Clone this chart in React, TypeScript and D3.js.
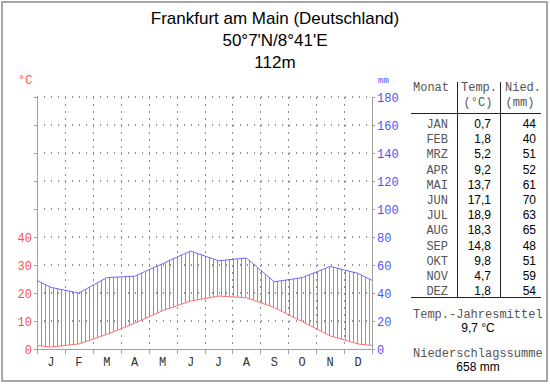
import React from "react";
import * as d3 from "d3";

const monthLetters = ["J", "F", "M", "A", "M", "J", "J", "A", "S", "O", "N", "D"];
const monthAbbr = ["JAN", "FEB", "MRZ", "APR", "MAI", "JUN", "JUL", "AUG", "SEP", "OKT", "NOV", "DEZ"];
const tempValues = [0.7, 1.8, 5.2, 9.2, 13.7, 17.1, 18.9, 18.3, 14.8, 9.8, 4.7, 1.8];
const precipValues = [44, 40, 51, 52, 61, 70, 63, 65, 48, 51, 59, 54];
const tempTickLabels = [0, 10, 20, 30, 40];
const precipTickLabels = [0, 20, 40, 60, 80, 100, 120, 140, 160, 180];
const titleLines = ["Frankfurt am Main (Deutschland)", "50°7'N/8°41'E", "112m"];
const tempMeanLabel = "9,7 °C";
const precipSumLabel = "658 mm";

const W = 550;
const H = 384;
const left = 37;
const right = 372;
const top = 97;
const bottom = 349;

const mono = "'Liberation Mono', 'Courier New', monospace";
const sans = "'Liberation Sans', Arial, sans-serif";
const gridColor = "#8c8c8c";
const axisColor = "#a0a0a0";
const tableText = "#555";
const hatchColor = "#8686ff";

export default function App() {
  const x = d3.scaleLinear().domain([0, 12]).range([left, right]);
  const yP = d3.scaleLinear().domain([0, 180]).range([bottom, top]);
  const yT = d3.scaleLinear().domain([0, 90]).range([bottom, top]);

  const edgeT = (tempValues[0] + tempValues[11]) / 2;
  const edgeP = (precipValues[0] + precipValues[11]) / 2;
  const xs = [0, ...tempValues.map((_, i) => i + 0.5), 12];
  const tPts = [edgeT, ...tempValues, edgeT];
  const pPts = [edgeP, ...precipValues, edgeP];
  const tInterp = d3.scaleLinear().domain(xs).range(tPts);
  const pInterp = d3.scaleLinear().domain(xs).range(pPts);

  const tLine = d3
    .line<number>()
    .x((d) => x(d))
    .y((d) => yT(tInterp(d)))(xs) as string;
  const pLine = d3
    .line<number>()
    .x((d) => x(d))
    .y((d) => yP(pInterp(d)))(xs) as string;

  const hatchX: number[] = [];
  for (let px = left + 4; px < right - 1; px += 4) hatchX.push(px);

  const rowY = (i: number) => 128 + i * 15.2;

  return (
    <svg
      width={W}
      height={H}
      style={{ position: "absolute", left: 0, top: 0, background: "#fff" }}
    >
      <rect x={0} y={0} width={W} height={H} fill="#fff" />
      <rect x={2} y={2} width={545} height={379} fill="none" stroke="#8a8a8a" strokeWidth={1.5} />

      {titleLines.map((t, i) => (
        <text key={i} x={275} y={24 + i * 22} textAnchor="middle" fontFamily={sans} fontSize={17} fill="#000">
          {t}
        </text>
      ))}

      <text x={18} y={84} fontFamily={mono} fontSize={12} fill="#ff5050">°C</text>
      <text x={378} y={83} fontFamily={mono} fontSize={9} fill="#5050ff">mm</text>

      {/* horizontal dotted grid */}
      {precipTickLabels.slice(1).map((v) => (
        <line
          key={"hg" + v}
          x1={left}
          x2={right}
          y1={yP(v)}
          y2={yP(v)}
          stroke={gridColor}
          strokeWidth={2}
          strokeDasharray="1 6"
          shapeRendering="crispEdges"
        />
      ))}
      {/* vertical dotted grid */}
      {d3.range(1, 12).map((k) => (
        <line
          key={"vg" + k}
          x1={Math.round(x(k)) + 0.5}
          x2={Math.round(x(k)) + 0.5}
          y1={top}
          y2={bottom}
          stroke={gridColor}
          strokeWidth={1}
          strokeDasharray="2 5"
          shapeRendering="crispEdges"
        />
      ))}

      {/* hatching */}
      <g stroke={hatchColor} strokeWidth={1} shapeRendering="crispEdges">
        {hatchX.map((px) => {
          const u = x.invert(px);
          return (
            <line
              key={"h" + px}
              x1={px + 0.5}
              x2={px + 0.5}
              y1={yT(tInterp(u))}
              y2={yP(pInterp(u))}
            />
          );
        })}
      </g>

      {/* axes */}
      <line x1={left + 0.5} x2={left + 0.5} y1={top} y2={bottom + 5} stroke={axisColor} />
      <line x1={right + 0.5} x2={right + 0.5} y1={top} y2={bottom + 5} stroke={axisColor} />
      <line x1={left} x2={right} y1={bottom + 0.5} y2={bottom + 0.5} stroke={axisColor} />
      {d3.range(0, 13).map((k) => (
        <line
          key={"bt" + k}
          x1={Math.round(x(k)) + 0.5}
          x2={Math.round(x(k)) + 0.5}
          y1={bottom}
          y2={bottom + 5}
          stroke={axisColor}
        />
      ))}
      {precipTickLabels.map((v) => (
        <g key={"tk" + v}>
          <line x1={left - 3} x2={left} y1={Math.round(yP(v)) + 0.5} y2={Math.round(yP(v)) + 0.5} stroke={axisColor} />
          <line x1={right} x2={right + 3} y1={Math.round(yP(v)) + 0.5} y2={Math.round(yP(v)) + 0.5} stroke={axisColor} />
          <text x={377} y={yP(v) + 4.5} fontFamily={mono} fontSize={12} fill="#5050ff">
            {v}
          </text>
        </g>
      ))}
      {tempTickLabels.map((v) => (
        <text key={"tl" + v} x={32} y={yT(v) + 4.5} textAnchor="end" fontFamily={mono} fontSize={12} fill="#ff5050">
          {v}
        </text>
      ))}

      {/* curves */}
      <path d={pLine} fill="none" stroke="#6a6aff" strokeWidth={1} />
      <path d={tLine} fill="none" stroke="#ff7070" strokeWidth={1} />

      {monthLetters.map((m, i) => (
        <text key={"m" + i} x={x(i + 0.5)} y={366} textAnchor="middle" fontFamily={mono} fontSize={12} fill="#333">
          {m}
        </text>
      ))}

      {/* table */}
      <g fontFamily={mono} fontSize={12} fill={tableText}>
        <text x={413} y={91}>Monat</text>
        <text x={461} y={91}>Temp.</text>
        <text x={505} y={91}>Nied.</text>
        <text x={478} y={106} textAnchor="middle">(°C)</text>
        <text x={520} y={106} textAnchor="middle">(mm)</text>
      </g>
      <line x1={411} x2={541} y1={113.5} y2={113.5} stroke="#222" />
      <line x1={411} x2={541} y1={297.5} y2={297.5} stroke="#222" />
      <line x1={457.5} x2={457.5} y1={82} y2={297} stroke="#222" />
      <line x1={500.5} x2={500.5} y1={82} y2={297} stroke="#222" />
      {monthAbbr.map((m, i) => (
        <g key={"row" + i}>
          <text x={448} y={rowY(i)} textAnchor="end" fontFamily={mono} fontSize={12} fill={tableText}>
            {m}
          </text>
          <text x={491} y={rowY(i)} textAnchor="end" fontFamily={sans} fontSize={12} fill="#000">
            {tempValues[i].toFixed(1).replace(".", ",")}
          </text>
          <text x={536} y={rowY(i)} textAnchor="end" fontFamily={sans} fontSize={12} fill="#000">
            {precipValues[i]}
          </text>
        </g>
      ))}
      <text x={413} y={318} fontFamily={mono} fontSize={12} fill={tableText}>Temp.-Jahresmittel</text>
      <text x={478} y={332} textAnchor="middle" fontFamily={sans} fontSize={12} fill="#000">{tempMeanLabel}</text>
      <text x={413} y={357} fontFamily={mono} fontSize={12} fill={tableText}>Niederschlagssumme</text>
      <text x={478} y={371} textAnchor="middle" fontFamily={sans} fontSize={12} fill="#000">{precipSumLabel}</text>
    </svg>
  );
}
